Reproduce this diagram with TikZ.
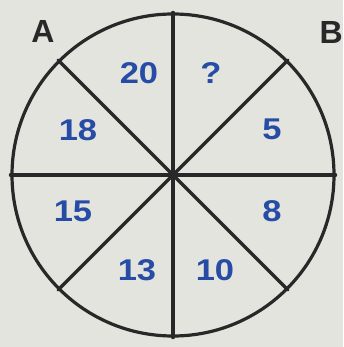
\documentclass[tikz,border=0pt]{standalone}
\usepackage{fontspec}
\setmainfont{Liberation Sans}
\definecolor{paper}{RGB}{228,228,222}
\definecolor{ink}{RGB}{40,40,40}
\definecolor{numblue}{RGB}{38,76,165}
\begin{document}
\begin{tikzpicture}[x=1pt,y=-1pt,
  num/.style={text=numblue,font=\fontsize{30}{30}\selectfont\bfseries,xscale=1.15,inner sep=0},
  letter/.style={text=ink,font=\fontsize{32}{32}\selectfont\bfseries,inner sep=0},
  spoke/.style={draw=ink,line width=3.2pt,line cap=round}]
\useasboundingbox (0,0) rectangle (343,347);
\clip (0,0) rectangle (343,347);
\fill[paper] (0,0) rectangle (343,347);
\coordinate (c) at (173,175);
\node[circle,draw=ink,line width=3.2pt,minimum size=322pt,inner sep=0] (wheel) at (c) {};
\draw[spoke] (wheel.north) -- (wheel.south);
\draw[spoke] (wheel.west) -- (wheel.east);
\draw[spoke] (wheel.north west) -- (wheel.south east);
\draw[spoke] (wheel.north east) -- (wheel.south west);
\node[letter] (la) at (43,31) {A};
\node[letter,anchor=east] (lb) at (343,32) {B};
\node[num] (n20) at (139,73) {20};
\node[num] (nq) at (211,73) {?};
\node[num] (n18) at (78,130) {18};
\node[num] (n5) at (272,129) {5};
\node[num] (n15) at (73,211) {15};
\node[num] (n8) at (272,211) {8};
\node[num] (n13) at (137,270) {13};
\node[num] (n10) at (215,270) {10};
\end{tikzpicture}
\end{document}
